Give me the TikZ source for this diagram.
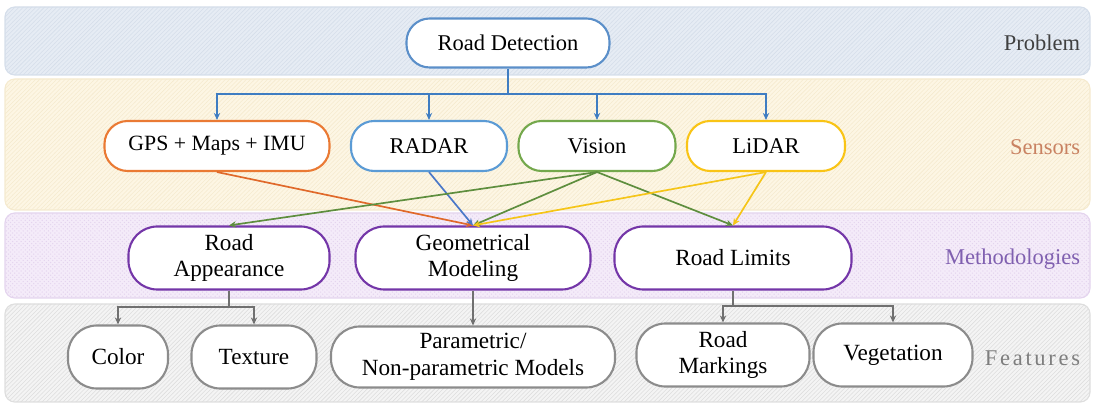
\documentclass[tikz,border=0pt]{standalone}
\usepackage{fontspec}
\setmainfont{Liberation Serif}
\newfontfamily\romanfont{Liberation Serif}
\usetikzlibrary{arrows.meta,patterns}

\definecolor{probband}{HTML}{E6ECF4}
\definecolor{probedge}{HTML}{D5DEEA}
\definecolor{sensband}{HTML}{FDF6E4}
\definecolor{sensedge}{HTML}{F5EACF}
\definecolor{methband}{HTML}{F4EBF9}
\definecolor{methedge}{HTML}{E4D4EE}
\definecolor{featband}{HTML}{F4F4F4}
\definecolor{featedge}{HTML}{DEDEDE}
\definecolor{detblue}{HTML}{5B8FC9}
\definecolor{gpsorange}{HTML}{EA7A34}
\definecolor{radarblue}{HTML}{5B9BD5}
\definecolor{visiongreen}{HTML}{74A84C}
\definecolor{lidargold}{HTML}{F9C416}
\definecolor{methpurple}{HTML}{7436A8}
\definecolor{featgrey}{HTML}{8C8C8C}
\definecolor{linkblue}{HTML}{3F7DC2}
\definecolor{linkorange}{HTML}{E0692A}
\definecolor{linkradar}{HTML}{4A78C8}
\definecolor{linkgreen}{HTML}{5E8E3E}
\definecolor{linkgold}{HTML}{F5C518}
\definecolor{linkgrey}{HTML}{707070}
\definecolor{senstext}{HTML}{C98262}
\definecolor{methtext}{HTML}{8060B0}

\tikzset{
  band/.style = {rounded corners=7pt, line width=0.8pt},
  box/.style = {draw, fill=white, rounded corners=16.5pt, line width=1.5pt,
                align=center, inner sep=0pt, text=black,
                font=\romanfont\fontsize{16}{19}\selectfont},
  methbox/.style = {box, draw=methpurple, rounded corners=20.5pt,
                    minimum height=1.575cm, font=\romanfont\fontsize{16.5}{19}\selectfont},
  featbox/.style = {box, draw=featgrey, rounded corners=20.5pt,
                    minimum height=1.575cm, font=\romanfont\fontsize{16.5}{19}\selectfont},
  tag/.style = {anchor=east, font=\romanfont\fontsize{16}{19}\selectfont},
  link/.style = {line width=1.2pt, -{Stealth[length=5pt,width=4.5pt]}},
}

\begin{document}
\begin{tikzpicture}[x = 0.025cm, y = -0.025cm]
    \useasboundingbox (0,0) rectangle (1094,406);

    % background bands
    \filldraw[band, fill=probband, draw=probedge] (5,7) rectangle (1090,75);
    \filldraw[band, fill=sensband, draw=sensedge] (5,79) rectangle (1090,210);
    \filldraw[band, fill=methband, draw=methedge] (5,213) rectangle (1090,298);
    \filldraw[band, fill=featband, draw=featedge] (5,304) rectangle (1090,402);
    \fill[band, pattern=north east lines, pattern color=probedge] (5,7) rectangle (1090,75);
    \fill[band, pattern=north east lines, pattern color=sensedge] (5,79) rectangle (1090,210);
    \fill[band, pattern=crosshatch dots, pattern color=methedge] (5,213) rectangle (1090,298);
    \fill[band, pattern=north east lines, pattern color=featedge] (5,304) rectangle (1090,402);

    % layer names
    \node[tag, text=black!75] (problem) at (1085,43) {Problem};
    \node[tag, text=senstext] (sensors) at (1085,147) {Sensors};
    \node[tag, text=methtext] (methods) at (1085,259) {Methodologies};
    \node[tag, text=featgrey!90!black] (features) at (1085,358)
        {\addfontfeature{LetterSpace=12}Features};

    % problem and sensors
    \node[box, draw=detblue, minimum width=5.075cm, minimum height=1.225cm] (det) at (508,43) {Road Detection};
    \node[box, draw=gpsorange, minimum width=5.625cm, minimum height=1.25cm,
          font=\romanfont\fontsize{15.5}{19}\selectfont] (gps) at (217,146) {GPS + Maps + IMU};
    \node[box, draw=radarblue, minimum width=3.9cm, minimum height=1.25cm] (radar) at (429,146) {RADAR};
    \node[box, draw=visiongreen, minimum width=3.925cm, minimum height=1.25cm] (vision) at (597,146) {Vision};
    \node[box, draw=lidargold, minimum width=3.95cm, minimum height=1.25cm] (lidar) at (766,146) {LiDAR};

    % methodologies
    \node[methbox, minimum width=5.025cm] (app) at (229,258) {Road\\Appearance};
    \node[methbox, minimum width=5.875cm] (geom) at (473,258) {Geometrical\\Modeling};
    \node[methbox, minimum width=5.925cm] (limits) at (733,258) {Road Limits};

    % features
    \node[featbox, minimum width=2.5cm] (color) at (118,357) {Color};
    \node[featbox, minimum width=3.125cm] (texture) at (254,357) {Texture};
    \node[featbox, minimum width=7.1cm, minimum height=1.525cm] (param) at (473,357) {Parametric/\\Non-parametric Models};
    \node[featbox, minimum width=4.325cm] (markings) at (723,355) {Road\\Markings};
    \node[featbox, minimum width=3.975cm] (veg) at (893,355) {Vegetation};

    % problem to sensors
    \coordinate (detsplit) at (508,94);
    \draw[line width=1.2pt, linkblue] (det.south) -- (detsplit);
    \foreach \s in {gps,radar,vision,lidar}
        \draw[link, linkblue] (detsplit) -| (\s.north);

    % sensors to methodologies
    \draw[link, linkorange] (gps.south) -- (geom.north);
    \draw[link, linkradar] (radar.south) -- (geom.north);
    \draw[link, linkgreen] (vision.south) -- (app.north);
    \draw[link, linkgreen] (vision.south) -- (geom.north);
    \draw[link, linkgreen] (vision.south) -- (limits.north);
    \draw[link, linkgold] (lidar.south) -- (geom.north);
    \draw[link, linkgold] (lidar.south) -- (limits.north);

    % methodologies to features
    \coordinate (appsplit) at (229,307);
    \coordinate (limsplit) at (733,306);
    \draw[line width=1.2pt, linkgrey] (app.south) -- (appsplit);
    \draw[line width=1.2pt, linkgrey] (limits.south) -- (limsplit);
    \foreach \f in {color,texture}
        \draw[link, linkgrey] (appsplit) -| (\f.north);
    \foreach \f in {markings,veg}
        \draw[link, linkgrey] (limsplit) -| (\f.north);
    \draw[link, linkgrey] (geom.south) -- (param.north);
\end{tikzpicture}
\end{document}
